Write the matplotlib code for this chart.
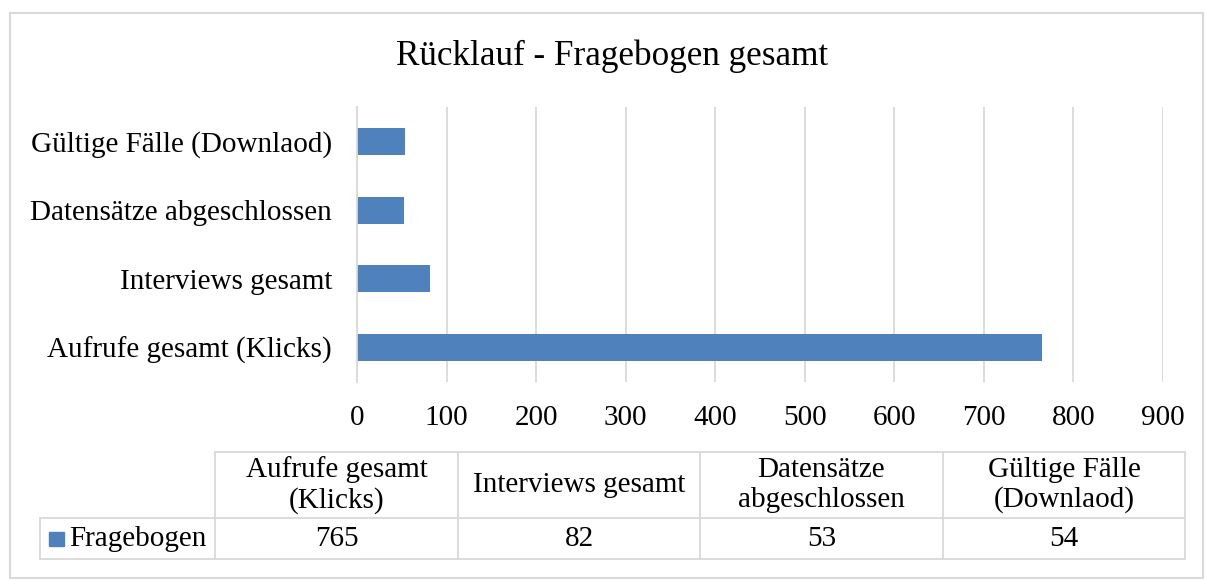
import matplotlib
matplotlib.use("Agg")
import matplotlib.pyplot as plt
from matplotlib.lines import Line2D
from matplotlib.patches import Rectangle

title = "Rücklauf - Fragebogen gesamt"
categories = ["Aufrufe gesamt (Klicks)", "Interviews gesamt",
              "Datensätze abgeschlossen", "Gültige Fälle (Downlaod)"]
table_headers = ["Aufrufe gesamt\n(Klicks)", "Interviews gesamt",
                 "Datensätze\nabgeschlossen", "Gültige Fälle\n(Downlaod)"]
series_name = "Fragebogen"
values = [765, 82, 53, 54]
xticks = [0, 100, 200, 300, 400, 500, 600, 700, 800, 900]

BAR = "#4F81BD"
GRID = "#D9D9D9"
FS = 21
plt.rcParams['font.family'] = ['Liberation Serif', 'DejaVu Serif']

W, H = 1206, 581
fig = plt.figure(figsize=(W / 100, H / 100), dpi=100)

def fx(px):
    return px / W

def fy(py):
    return 1 - py / H

# outer border
fig.patches.append(Rectangle((fx(10), fy(578)), fx(1203) - fx(10), fy(13) - fy(578),
                             transform=fig.transFigure, fill=False, edgecolor=GRID, lw=1.5))

ax = fig.add_axes([fx(357), fy(382), fx(1163) - fx(357), fy(107) - fy(382)])
ax.barh(range(len(values)), values, height=0.39, color=BAR)
ax.set_xlim(0, 900)
ax.set_ylim(-0.5, len(values) - 0.5)
ax.set_xticks(xticks)
ax.set_xticklabels([str(t) for t in xticks])
ax.set_yticks(range(len(categories)))
ax.set_yticklabels(categories)
ax.tick_params(axis='both', length=0, labelsize=FS, colors='black')
ax.tick_params(axis='x', pad=16.5)
ax.tick_params(axis='y', pad=18)
ax.grid(axis='x', color=GRID, lw=1.3)
ax.set_axisbelow(True)
for s in ['top', 'right', 'bottom']:
    ax.spines[s].set_visible(False)
ax.spines['left'].set_color(GRID)
ax.spines['left'].set_linewidth(1.3)

fig.text(fx(612), fy(56), title, ha='center', va='center', fontsize=25.3)

# data table
col_x = [40, 215, 458, 700, 943, 1185]
row_y = [452, 518, 559]
tl = dict(color=GRID, lw=1.3, transform=fig.transFigure)
fig.add_artist(Line2D([fx(col_x[1]), fx(col_x[-1])], [fy(row_y[0])] * 2, **tl))
fig.add_artist(Line2D([fx(col_x[0]), fx(col_x[-1])], [fy(row_y[1])] * 2, **tl))
fig.add_artist(Line2D([fx(col_x[0]), fx(col_x[-1])], [fy(row_y[2])] * 2, **tl))
fig.add_artist(Line2D([fx(col_x[0])] * 2, [fy(row_y[1]), fy(row_y[2])], **tl))
for cx in col_x[1:]:
    fig.add_artist(Line2D([fx(cx)] * 2, [fy(row_y[0]), fy(row_y[2])], **tl))

for i, (hdr, v) in enumerate(zip(table_headers, values)):
    cx = (col_x[i + 1] + col_x[i + 2]) / 2
    fig.text(fx(cx), fy((row_y[0] + row_y[1]) / 2), hdr, ha='center', va='center',
             fontsize=FS, linespacing=1.17)
    fig.text(fx(cx), fy((row_y[1] + row_y[2]) / 2), str(v), ha='center', va='center',
             fontsize=FS)

# legend key + series name
fig.patches.append(Rectangle((fx(49), fy(546)), fx(64) - fx(49), fy(532) - fy(546),
                             transform=fig.transFigure, color=BAR))
fig.text(fx(69), fy((row_y[1] + row_y[2]) / 2), series_name, ha='left', va='center',
         fontsize=FS)

fig.savefig("out.png", dpi=100)
